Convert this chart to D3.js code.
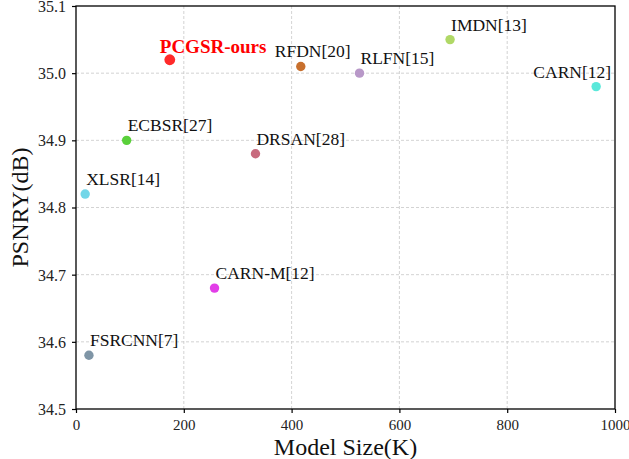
<!DOCTYPE html>
<html>
<head>
<meta charset="utf-8">
<script src="https://cdn.jsdelivr.net/npm/d3@7"></script>
<style>
  body { margin: 0; background: #fff; }
  svg { display: block; }
</style>
</head>
<body>
<script>
// chart data
var models = ["PCGSR-ours", "RFDN[20]", "RLFN[15]", "IMDN[13]", "CARN[12]",
              "ECBSR[27]", "DRSAN[28]", "XLSR[14]", "CARN-M[12]", "FSRCNN[7]"];
var sizes  = [174, 417, 526, 694, 965, 94, 333, 17, 257, 24];
var psnr   = [35.02, 35.01, 35.00, 35.05, 34.98, 34.90, 34.88, 34.82, 34.68, 34.58];
var colors = ["#ff2a2a", "#c8702e", "#b898c8", "#b0d866", "#5ae8da",
              "#5ad03a", "#c86a7e", "#72d6e8", "#e23ee8", "#7f95a6"];
var xTicks = [0, 200, 400, 600, 800, 1000];
var yTicks = [34.5, 34.6, 34.7, 34.8, 34.9, 35.0, 35.1];

var w = 629, h = 459;
var margin = { left: 76, right: 14, top: 6, bottom: 50 };

var svg = d3.select("body").append("svg")
  .attr("width", w)
  .attr("height", h)
  .style("font-family", "'Liberation Serif', 'Times New Roman', serif");

var xScale = d3.scaleLinear().domain([0, 1000]).range([margin.left, w - margin.right]);
var yScale = d3.scaleLinear().domain([34.5, 35.1]).range([h - margin.bottom, margin.top]);

//grid lines
svg.append("g")
  .selectAll("line.gx")
  .data(xTicks.slice(1, -1))
  .enter().append("line")
  .attr("x1", function(d) { return xScale(d); })
  .attr("x2", function(d) { return xScale(d); })
  .attr("y1", yScale(34.5))
  .attr("y2", yScale(35.1))
  .attr("stroke", "#c8c8c8")
  .attr("stroke-width", 0.8)
  .attr("stroke-dasharray", "3,2");

svg.append("g")
  .selectAll("line.gy")
  .data(yTicks.slice(1, -1))
  .enter().append("line")
  .attr("x1", xScale(0))
  .attr("x2", xScale(1000))
  .attr("y1", function(d) { return yScale(d); })
  .attr("y2", function(d) { return yScale(d); })
  .attr("stroke", "#c8c8c8")
  .attr("stroke-width", 0.8)
  .attr("stroke-dasharray", "3,2");

//axes
var xAxis = svg.append("g")
  .attr("transform", "translate(0," + yScale(34.5) + ")")
  .call(d3.axisBottom(xScale).tickValues(xTicks).tickSize(4).tickPadding(6).tickFormat(d3.format("d")));
var yAxis = svg.append("g")
  .attr("transform", "translate(" + xScale(0) + ",0)")
  .call(d3.axisLeft(yScale).tickValues(yTicks).tickSize(4).tickPadding(6).tickFormat(d3.format(".1f")));

[xAxis, yAxis].forEach(function(a) {
  a.select(".domain").remove();
  a.selectAll("line").attr("stroke", "#000").attr("stroke-width", 1.2);
  a.selectAll("text")
    .attr("font-family", "'Liberation Serif', 'Times New Roman', serif")
    .attr("font-size", "15px")
    .attr("fill", "#222");
});
yAxis.selectAll("text").attr("font-size", "16px").attr("dy", "0.34em");

//frame
svg.append("rect")
  .attr("x", xScale(0))
  .attr("y", yScale(35.1))
  .attr("width", xScale(1000) - xScale(0))
  .attr("height", yScale(34.5) - yScale(35.1))
  .attr("fill", "none")
  .attr("stroke", "#000")
  .attr("stroke-width", 1.3);

//points
var pts = d3.range(models.length);
svg.append("g")
  .selectAll("circle")
  .data(pts)
  .enter().append("circle")
  .attr("cx", function(i) { return xScale(sizes[i]); })
  .attr("cy", function(i) { return yScale(psnr[i]); })
  .attr("r", function(i) { return i === 0 ? 5.4 : 4.7; })
  .attr("fill", function(i) { return colors[i]; });

//labels: most sit just above-right of the dot
function anchor(i) {
  return models[i] === "CARN[12]" ? "end" : "start";
}
function shift(i) {
  if (models[i] === "CARN[12]") return 15;
  if (models[i] === "PCGSR-ours") return -10;
  if (models[i] === "RFDN[20]") return -26;
  return 1;
}

svg.append("g")
  .selectAll("text")
  .data(pts)
  .enter().append("text")
  .text(function(i) { return models[i]; })
  .attr("x", function(i) { return xScale(sizes[i]) + shift(i); })
  .attr("y", function(i) { return yScale(psnr[i]) - (i === 0 ? 7 : 9); })
  .attr("text-anchor", anchor)
  .attr("font-size", function(i) { return i === 0 ? "19px" : "17.5px"; })
  .attr("font-weight", function(i) { return i === 0 ? "bold" : "normal"; })
  .attr("fill", function(i) { return i === 0 ? "#ff0000" : "#111"; });

//axis titles
svg.append("text")
  .text("Model Size(K)")
  .attr("x", (xScale(0) + xScale(1000)) / 2)
  .attr("y", 455)
  .attr("text-anchor", "middle")
  .attr("font-size", "24px")
  .attr("fill", "#111");

svg.append("text")
  .text("PSNRY(dB)")
  .attr("transform", "translate(28," + ((yScale(34.5) + yScale(35.1)) / 2) + ") rotate(-90)")
  .attr("text-anchor", "middle")
  .attr("font-size", "24px")
  .attr("fill", "#111");
</script>
</body>
</html>
